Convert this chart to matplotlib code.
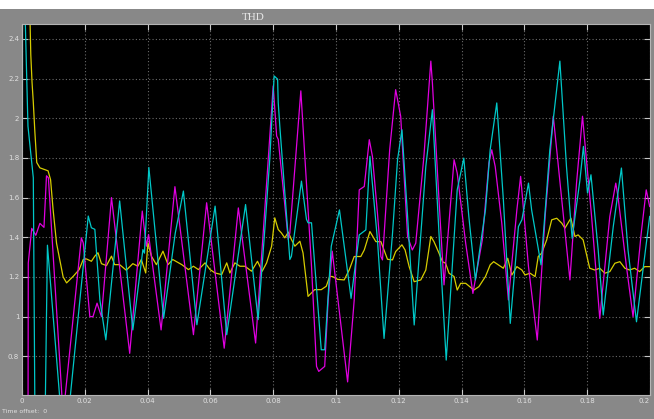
import matplotlib
matplotlib.use("Agg")
import matplotlib.pyplot as plt
from matplotlib.patches import Rectangle

# scope traces: (time, THD)
cyan_t = [0.0, 0.0002, 0.0019, 0.0036, 0.0042, 0.0072, 0.0081, 0.0135, 0.0211, 0.0221,
          0.0232, 0.0248, 0.0267, 0.0311, 0.0353, 0.0385, 0.039, 0.0404, 0.0451, 0.0488,
          0.0514, 0.0557, 0.0615, 0.0652, 0.0712, 0.0752, 0.0774, 0.0789, 0.0803, 0.0814,
          0.0816, 0.0821, 0.0853, 0.0858, 0.089, 0.0906, 0.0911, 0.0922, 0.0953, 0.0964,
          0.0985, 0.1011, 0.1048, 0.1074, 0.1095, 0.1108, 0.1132, 0.1153, 0.118, 0.1196,
          0.121, 0.1228, 0.1249, 0.1286, 0.1307, 0.1328, 0.1351, 0.1386, 0.1407, 0.1423,
          0.1444, 0.1476, 0.1491, 0.1512, 0.1533, 0.1555, 0.1581, 0.1592, 0.1613, 0.1623,
          0.1653, 0.1681, 0.1713, 0.1734, 0.1752, 0.1777, 0.1788, 0.1801, 0.1812, 0.1835,
          0.1851, 0.1883, 0.1909, 0.193, 0.1957, 0.1983, 0.1999]
cyan_v = [0.0, 3.0, 1.96, 1.70, 0.3, 0.3, 1.36, 0.3, 1.507, 1.448,
          1.44, 1.085, 0.883, 1.583, 0.933, 1.338, 1.32, 1.752, 0.992, 1.42,
          1.633, 0.959, 1.557, 0.909, 1.565, 0.985, 1.456, 1.793, 2.213, 2.197,
          2.079, 1.961, 1.288, 1.304, 1.683, 1.49, 1.473, 1.473, 0.833, 0.833,
          1.355, 1.538, 1.092, 1.412, 1.437, 1.808, 1.387, 0.89, 1.42, 1.791,
          1.942, 1.505, 0.958, 1.757, 2.043, 1.42, 0.781, 1.639, 1.799, 1.505,
          1.185, 1.538, 1.841, 2.077, 1.589, 0.966, 1.454, 1.488, 1.673, 1.538,
          1.261, 1.841, 2.288, 1.757, 1.395, 1.69, 1.858, 1.623, 1.715, 1.336,
          1.008, 1.454, 1.749, 1.336, 0.974, 1.303, 1.505]

magenta_t = [0.0, 0.0019, 0.002, 0.0031, 0.0044, 0.0057, 0.007, 0.0078, 0.0084, 0.0131,
             0.0189, 0.0195, 0.0216, 0.0226, 0.0239, 0.0253, 0.0285, 0.0343, 0.0383, 0.0396,
             0.0403, 0.0412, 0.0443, 0.0487, 0.0546, 0.0588, 0.0644, 0.0689, 0.0744, 0.0782,
             0.08, 0.0811, 0.0816, 0.0848, 0.0853, 0.0888, 0.0922, 0.0938, 0.0945, 0.0964,
             0.0975, 0.0988, 0.1037, 0.1058, 0.1074, 0.109, 0.1106, 0.1116, 0.1132, 0.1143,
             0.1148, 0.1171, 0.119, 0.1206, 0.1228, 0.1243, 0.1254, 0.128, 0.1302, 0.1307,
             0.1328, 0.1344, 0.1376, 0.1386, 0.1413, 0.1436, 0.1466, 0.1487, 0.1496, 0.1507,
             0.1528, 0.1549, 0.1576, 0.1588, 0.1613, 0.1641, 0.1666, 0.1692, 0.1719, 0.1745,
             0.1766, 0.1785, 0.1814, 0.184, 0.1872, 0.1891, 0.1898, 0.1925, 0.1946, 0.1972,
             0.1988, 0.1999]
magenta_v = [0.3, 0.3, 1.27, 1.445, 1.41, 1.47, 1.45, 1.71, 1.70, 0.5,
             1.397, 1.372, 1.0, 1.0, 1.068, 1.0, 1.60, 0.815, 1.532, 1.355,
             1.414, 1.305, 0.933, 1.655, 0.909, 1.574, 0.841, 1.548, 0.867, 1.742,
             2.163, 1.91, 1.894, 1.389, 1.422, 2.138, 1.254, 0.749, 0.724, 0.749,
             1.086, 1.33, 0.671, 1.084, 1.639, 1.656, 1.892, 1.808, 1.522, 1.303,
             1.286, 1.842, 2.144, 2.01, 1.404, 1.336, 1.37, 1.808, 2.288, 2.178,
             1.589, 1.16, 1.791, 1.724, 1.37, 1.117, 1.387, 1.774, 1.841, 1.757,
             1.471, 1.084, 1.538, 1.707, 1.252, 0.882, 1.505, 2.01, 1.589, 1.185,
             1.673, 2.01, 1.505, 0.991, 1.505, 1.673, 1.606, 1.252, 1.0, 1.42,
             1.639, 1.555]

yellow_t = [0.0, 0.0024, 0.0028, 0.0032, 0.0036, 0.0041, 0.0047, 0.0057, 0.0083, 0.0091,
            0.0099, 0.011, 0.0131, 0.0142, 0.0163, 0.0182, 0.0195, 0.0205, 0.0221, 0.0232,
            0.0242, 0.0253, 0.0269, 0.0285, 0.0295, 0.0311, 0.0332, 0.0353, 0.0369, 0.038,
            0.0394, 0.0401, 0.0412, 0.0428, 0.0449, 0.0465, 0.048, 0.0509, 0.053, 0.0546,
            0.0562, 0.0583, 0.0599, 0.0615, 0.0636, 0.0652, 0.0662, 0.0678, 0.0694, 0.071,
            0.0731, 0.075, 0.0765, 0.0779, 0.0795, 0.0805, 0.0816, 0.0826, 0.0837, 0.0848,
            0.0858, 0.0869, 0.0885, 0.0895, 0.0911, 0.0932, 0.0953, 0.0969, 0.098, 0.0989,
            0.1005, 0.1026, 0.1042, 0.1058, 0.1079, 0.109, 0.1108, 0.1127, 0.1143, 0.1153,
            0.1164, 0.118, 0.119, 0.121, 0.122, 0.1233, 0.1249, 0.127, 0.1286, 0.1302,
            0.1312, 0.1328, 0.1339, 0.1349, 0.136, 0.1376, 0.1386, 0.1397, 0.1413, 0.1439,
            0.1455, 0.1476, 0.1491, 0.1502, 0.1517, 0.1533, 0.1547, 0.156, 0.1576, 0.1592,
            0.1602, 0.1618, 0.1634, 0.1644, 0.1655, 0.1671, 0.1687, 0.1703, 0.1719, 0.1729,
            0.1748, 0.1761, 0.1771, 0.1787, 0.1798, 0.1808, 0.1824, 0.184, 0.1856, 0.1872,
            0.1888, 0.1904, 0.192, 0.1935, 0.1951, 0.1967, 0.1983, 0.1999]
yellow_v = [4.0, 2.6, 2.32, 2.18, 2.08, 1.93, 1.777, 1.75, 1.735, 1.69,
            1.54, 1.37, 1.20, 1.17, 1.203, 1.237, 1.288, 1.291, 1.279, 1.305,
            1.322, 1.267, 1.257, 1.305, 1.262, 1.262, 1.234, 1.267, 1.254, 1.288,
            1.22, 1.372, 1.305, 1.262, 1.33, 1.262, 1.288, 1.262, 1.237, 1.254,
            1.237, 1.271, 1.237, 1.22, 1.212, 1.271, 1.22, 1.271, 1.254, 1.254,
            1.229, 1.279, 1.229, 1.271, 1.355, 1.498, 1.439, 1.422, 1.397, 1.426,
            1.389, 1.355, 1.38, 1.321, 1.102, 1.136, 1.136, 1.153, 1.203, 1.202,
            1.188, 1.185, 1.235, 1.303, 1.303, 1.336, 1.429, 1.378, 1.378, 1.336,
            1.289, 1.286, 1.328, 1.362, 1.336, 1.252, 1.176, 1.185, 1.235, 1.404,
            1.378, 1.32, 1.277, 1.269, 1.219, 1.202, 1.134, 1.168, 1.168, 1.134,
            1.151, 1.202, 1.261, 1.277, 1.261, 1.244, 1.294, 1.21, 1.252, 1.235,
            1.21, 1.219, 1.202, 1.303, 1.32, 1.387, 1.488, 1.496, 1.471, 1.446,
            1.496, 1.404, 1.412, 1.387, 1.311, 1.244, 1.235, 1.244, 1.219, 1.227,
            1.269, 1.277, 1.244, 1.235, 1.244, 1.227, 1.252, 1.252]

x_ticks = [0, 0.02, 0.04, 0.06, 0.08, 0.1, 0.12, 0.14, 0.16, 0.18, 0.2]
x_labels = ['0', '0.02', '0.04', '0.06', '0.08', '0.1', '0.12', '0.14', '0.16', '0.18', '0.2']
y_ticks = [0.8, 1.0, 1.2, 1.4, 1.6, 1.8, 2.0, 2.2, 2.4]
y_labels = ['0.8', '1', '1.2', '1.4', '1.6', '1.8', '2', '2.2', '2.4']

W, H = 654, 419
bg = '#888888'
fig = plt.figure(figsize=(W / 100, H / 100), dpi=100, facecolor=bg)
fig.add_artist(Rectangle((0, 1 - 9 / H), 1, 9 / H, transform=fig.transFigure,
                         facecolor='white', edgecolor='none'))

ax = fig.add_axes([22 / W, (H - 395) / H, 628 / W, 371 / H])
ax.set_facecolor('black')

ax.plot(yellow_t, yellow_v, color='#d6cc00', lw=0.9)
ax.plot(magenta_t, magenta_v, color='#e000e0', lw=0.9)
ax.plot(cyan_t, cyan_v, color='#00c8c8', lw=0.9)

ax.set_xlim(0, 0.2)
ax.set_ylim(0.605, 2.475)
ax.set_xticks(x_ticks)
ax.set_xticklabels(x_labels)
ax.set_yticks(y_ticks)
ax.set_yticklabels(y_labels)
ax.grid(True, color='#6a6a6a', linestyle=(0, (1, 2)), linewidth=0.8)
ax.tick_params(direction='in', length=4, width=0.8, color='#c8c8c8',
               labelsize=5, labelcolor='#e0e0e0', top=True, right=True, pad=2)
# last x label sits at the right edge, keep it inside the figure
ax.get_xticklabels()[-1].set_horizontalalignment('right')
for s in ax.spines.values():
    s.set_color('#b4b4b4')
    s.set_linewidth(0.8)

fig.text(253 / W, 1 - 18 / H, 'THD', ha='center', va='center',
         family='Liberation Serif', fontsize=8, color='#e8e8e8')
fig.text(2 / W, 1 - 411 / H, 'Time offset:  0', ha='left', va='center',
         fontsize=4.5, color='#e0e0e0')

fig.savefig('out.png', dpi=100, facecolor=bg)
